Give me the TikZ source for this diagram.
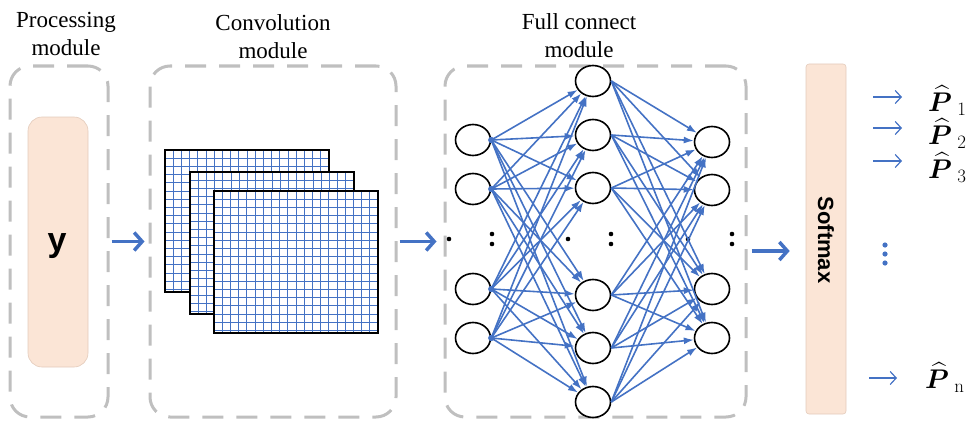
\RequirePackage{fix-cm}
\documentclass[tikz,border=0pt]{standalone}
\usepackage{amsmath,bm}
\usepackage{fontspec}
\setsansfont{Liberation Sans}
\newfontfamily\labelserif{Liberation Serif}
\usetikzlibrary{arrows.meta,shapes.geometric}
\definecolor{dashgray}{HTML}{BFBFBF}
\definecolor{peach}{HTML}{FBE5D6}
\definecolor{peachline}{HTML}{E3CBBB}
\definecolor{nnblue}{HTML}{4472C4}
\begin{document}
\begin{tikzpicture}[x=1pt,y=-1pt,
  modbox/.style={draw=dashgray, line width=3pt, dash pattern=on 21pt off 13pt,
    rounded corners=20pt, inner sep=0pt, minimum height=351pt},
  modlabel/.style={font=\labelserif\fontsize{23}{28}\selectfont, align=center, anchor=north, inner sep=0pt},
  peachbox/.style={fill=peach, draw=peachline, line width=0.6pt, inner sep=0pt},
  neuron/.style={ellipse, draw=black, line width=1.6pt, fill=white, minimum width=35pt, minimum height=31pt, inner sep=0pt},
  nnedge/.style={draw=nnblue, line width=1.6pt, -{Latex[length=10pt,width=7pt]}},
  bigarrow/.style={draw=nnblue, line width=3.5pt, -{Straight Barb[length=8pt,width=18pt]}},
  smallarrow/.style={draw=nnblue, line width=1.2pt, -{Straight Barb[length=6pt,width=13pt]}},
  gridline/.style={draw=nnblue, line width=0.9pt},
  phat/.style={font=\fontsize{27}{32}\selectfont, anchor=base west, inner sep=0pt},
  blackdot/.style={fill=black}
]
\useasboundingbox (0,0) rectangle (979,420);

% module frames
\node[modbox, minimum width=98pt] (proc) at (59,241.5) {};
\node[modbox, minimum width=246pt] (conv) at (273,241.5) {};
\node[modbox, minimum width=301pt] (fc) at (595.5,241.5) {};

\node[modlabel] (proclabel) at (66,12) {Processing\\module};
\node[modlabel] (convlabel) at (273,14) {Convolution\\module};
\node[modlabel] (fclabel) at (579,13) {Full connect\\module};

% input box
\node[peachbox, rounded corners=14pt, minimum width=60pt, minimum height=250pt] (ybox) at (58,242) {};
\node[font=\sffamily\bfseries\fontsize{34}{36}\selectfont, inner sep=0pt] (ytext) at (57,246) {y};

% convolution feature maps
\foreach \ox/\oy in {165/150, 190/172, 214/191} {
  \begin{scope}[shift={(\ox,\oy)}]
    \fill[white] (0,0) rectangle (164,142);
    \foreach \i in {0,...,20} \draw[gridline] (\i*8.2,0) -- (\i*8.2,142);
    \foreach \j in {0,...,17} \draw[gridline] (0,\j*8.2) -- (164,\j*8.2);
    \draw[black, line width=1.5pt] (0,0) rectangle (164,142);
  \end{scope}
}

% neurons
\foreach \n/\yy in {1/140, 2/189, 3/289, 4/338}
  \node[neuron] (a\n) at (473,\yy) {};
\foreach \n/\yy in {1/81, 2/135, 3/188, 4/295, 5/348, 6/402}
  \node[neuron] (b\n) at (593,\yy) {};
\foreach \n/\yy in {1/142, 2/190, 3/289, 4/338}
  \node[neuron] (c\n) at (712,\yy) {};

% ellipsis dots
\foreach \xx in {449, 568, 688}
  \fill[blackdot] (\xx,239) circle (2.3);
\foreach \xx in {492, 611, 732} {
  \fill[blackdot] (\xx,234) circle (2.3);
  \fill[blackdot] (\xx,244) circle (2.3);
}

% connections
\foreach \i in {1,...,4} {
  \foreach \j in {1,...,6}
    \draw[nnedge] (a\i.east) -- (b\j);
  \fill[nnblue] (a\i.east) circle (3.2);
}
\foreach \j in {1,...,6}
  \foreach \k in {1,...,4}
    \draw[nnedge] (b\j.east) -- (c\k);

% softmax
\node[peachbox, rounded corners=3pt, minimum width=40pt, minimum height=350pt] (soft) at (826,239) {};
\node[font=\sffamily\bfseries\fontsize{22}{24}\selectfont, rotate=-90, inner sep=0pt] (softtext) at (826,240) {Softmax};

% module arrows
\draw[bigarrow] ([xshift=2pt]proc.east) -- ([xshift=-4pt]conv.west);
\draw[bigarrow] ([xshift=2pt]conv.east) -- ([xshift=-7pt]fc.west);
\draw[bigarrow] ([xshift=4pt,yshift=-9.5pt]fc.east) -- ([xshift=-16pt,yshift=-12pt]soft.west);

% outputs
\node[phat] (p1) at (928,111) {$\smash[t]{\widehat{\boldsymbol{P}}}_{\;1}$};
\node[phat] (p2) at (928,144) {$\smash[t]{\widehat{\boldsymbol{P}}}_{\;2}$};
\node[phat] (p3) at (928,178) {$\smash[t]{\widehat{\boldsymbol{P}}}_{\;3}$};
\node[phat] (pn) at (925,388) {$\smash[t]{\widehat{\boldsymbol{P}}}_{\;\mathrm{n}}$};

\coordinate (s1) at (873,97);  \coordinate (e1) at (902,97);
\coordinate (s2) at (873,128); \coordinate (e2) at (902,128);
\coordinate (s3) at (873,161); \coordinate (e3) at (902,161);
\coordinate (sn) at (869,378); \coordinate (en) at (897,378);
\draw[smallarrow] (s1) -- (e1);
\draw[smallarrow] (s2) -- (e2);
\draw[smallarrow] (s3) -- (e3);
\draw[smallarrow] (sn) -- (en);

\foreach \yy in {245, 254, 263}
  \fill[nnblue] (885,\yy) circle (2.6);
\end{tikzpicture}
\end{document}
